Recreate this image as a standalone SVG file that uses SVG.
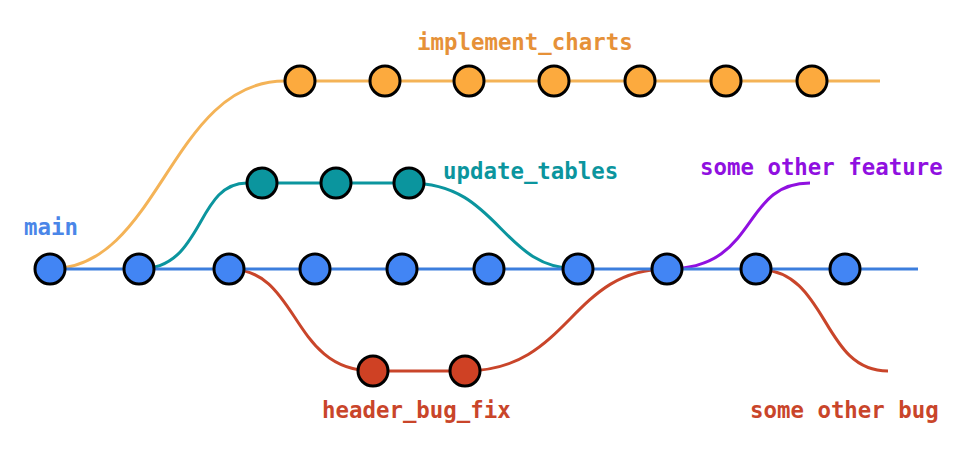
<svg xmlns="http://www.w3.org/2000/svg" width="959" height="457" viewBox="0 0 959 457">
<style>
.ln{fill:none;stroke-width:3;stroke-linecap:butt}
.n{stroke:#000;stroke-width:3}
.blue{fill:#4285f4}.orange{fill:#fcaa3e}.teal{fill:#0b959e}.red{fill:#cf4124}
text{font-family:"DejaVu Sans Mono","Liberation Mono",monospace;font-size:22.4px;font-weight:bold}
</style>
<rect width="959" height="457" fill="#fff"/>
<g id="connectors">
<path class="ln" stroke="#f4b357" d="M50,269 C160,269 170,81 285,81 L880,81"/>
<path class="ln" stroke="#0b959e" d="M139,269 C205,269 195,183 247,183 L409,183 C500,183 500,269 578,269"/>
<path class="ln" stroke="#c9452a" d="M229,269 C300,269 290,371 373,371 L465,371 C570,371 570,269 667,269"/>
<path class="ln" stroke="#9010e0" d="M667,269 C760,269 740,183 810,183"/>
<path class="ln" stroke="#c9452a" d="M756,269 C830,269 820,371 888,371"/>
<path class="ln" stroke="#3c7edd" d="M50,269 L918,269"/>
</g>
<g id="main-nodes">
<circle id="m1" class="n blue" cx="50" cy="269" r="15"/>
<circle id="m2" class="n blue" cx="139" cy="269" r="15"/>
<circle id="m3" class="n blue" cx="229" cy="269" r="15"/>
<circle id="m4" class="n blue" cx="315" cy="269" r="15"/>
<circle id="m5" class="n blue" cx="402" cy="269" r="15"/>
<circle id="m6" class="n blue" cx="489" cy="269" r="15"/>
<circle id="m7" class="n blue" cx="578" cy="269" r="15"/>
<circle id="m8" class="n blue" cx="667" cy="269" r="15"/>
<circle id="m9" class="n blue" cx="756" cy="269" r="15"/>
<circle id="m10" class="n blue" cx="845" cy="269" r="15"/>
</g>
<g id="chart-nodes">
<circle id="c1" class="n orange" cx="300" cy="81" r="15"/>
<circle id="c2" class="n orange" cx="385" cy="81" r="15"/>
<circle id="c3" class="n orange" cx="469" cy="81" r="15"/>
<circle id="c4" class="n orange" cx="554" cy="81" r="15"/>
<circle id="c5" class="n orange" cx="640" cy="81" r="15"/>
<circle id="c6" class="n orange" cx="726" cy="81" r="15"/>
<circle id="c7" class="n orange" cx="812" cy="81" r="15"/>
</g>
<g id="table-nodes">
<circle id="t1" class="n teal" cx="262" cy="183" r="15"/>
<circle id="t2" class="n teal" cx="336" cy="183" r="15"/>
<circle id="t3" class="n teal" cx="409" cy="183" r="15"/>
</g>
<g id="bug-nodes">
<circle id="b1" class="n red" cx="373" cy="371" r="15"/>
<circle id="b2" class="n red" cx="465" cy="371" r="15"/>
</g>
<g id="labels">
<text x="24" y="235" fill="#4a86e8">main</text>
<text x="417" y="50" fill="#e69138">implement_charts</text>
<text x="443" y="179" fill="#0b959e">update_tables</text>
<text x="700" y="175" fill="#9010e0">some other feature</text>
<text x="322" y="418" fill="#c9452a">header_bug_fix</text>
<text x="750" y="418" fill="#c9452a">some other bug</text>
</g>
</svg>
